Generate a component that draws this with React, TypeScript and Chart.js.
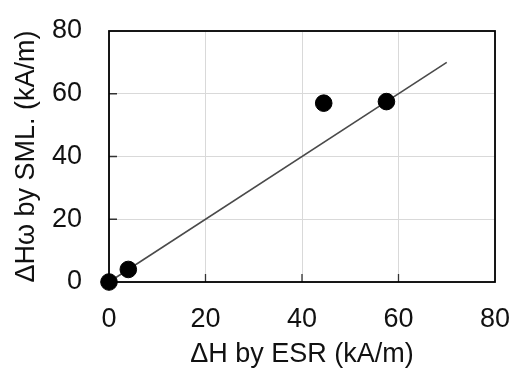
import React, { useEffect, useRef } from 'react';
import { Chart, registerables } from 'chart.js';

Chart.register(...registerables);

// Measured field change: ESR estimate (x) against SML estimate (y), kA/m
const esrValues = [0, 4, 44.5, 57.5];
const smlValues = [0, 4, 57, 57.5];

// Reference line y = x
const refLineX = [0, 70];
const refLineY = [0, 70];

const axisTicks = [0, 20, 40, 60, 80];
const xTitle = 'ΔH by ESR (kA/m)';
const yTitle = 'ΔHω by SML. (kA/m)';

const FONT_FAMILY = '"Liberation Sans", Arial, sans-serif';
const FONT_SIZE = 27;
const TEXT_COLOR = '#111111';

// Plot frame plus short inward tick marks on the bottom and left edges
const framePlugin = {
  id: 'frame',
  beforeDatasetsDraw(chart: any) {
    const { ctx, chartArea: a, scales } = chart;
    ctx.save();
    ctx.strokeStyle = '#333333';
    ctx.lineWidth = 1.3;
    ctx.beginPath();
    for (const v of axisTicks.slice(1, -1)) {
      const px = scales.x.getPixelForValue(v);
      ctx.moveTo(px, a.bottom);
      ctx.lineTo(px, a.bottom - 8);
      const py = scales.y.getPixelForValue(v);
      ctx.moveTo(a.left, py);
      ctx.lineTo(a.left + 8, py);
    }
    ctx.stroke();
    ctx.strokeStyle = '#000000';
    ctx.lineWidth = 1.8;
    ctx.strokeRect(a.left, a.top, a.right - a.left, a.bottom - a.top);
    ctx.restore();
  },
};

// Fixed scale box sizes; label overhang is handled by the layout padding
const fixBox = (size: { width?: number; height?: number }) => (scale: any) => {
  if (size.width !== undefined) scale.width = size.width;
  if (size.height !== undefined) scale.height = size.height;
  scale.paddingTop = 0;
  scale.paddingBottom = 0;
  scale.paddingLeft = 0;
  scale.paddingRight = 0;
};

export default function App() {
  const canvasRef = useRef<HTMLCanvasElement | null>(null);

  useEffect(() => {
    const canvas = canvasRef.current;
    if (!canvas) return;

    const points = esrValues.map((x, i) => ({ x, y: smlValues[i] }));
    const line = refLineX.map((x, i) => ({ x, y: refLineY[i] }));

    const chart = new Chart(canvas, {
      type: 'scatter',
      data: {
        datasets: [
          {
            label: 'data',
            data: points,
            backgroundColor: '#000000',
            borderColor: '#000000',
            pointRadius: 8.3,
            pointHoverRadius: 8.3,
            showLine: false,
            clip: false as any,
          },
          {
            label: 'y = x',
            data: line,
            showLine: true,
            borderColor: '#4a4a4a',
            borderWidth: 1.6,
            pointRadius: 0,
            pointHoverRadius: 0,
            clip: false as any,
          },
        ],
      },
      options: {
        responsive: false,
        animation: false,
        events: [],
        layout: { padding: { top: 31, right: 20, left: 0, bottom: 0 } },
        plugins: {
          legend: { display: false },
          tooltip: { enabled: false },
        },
        scales: {
          x: {
            type: 'linear',
            min: 0,
            max: 80,
            afterFit: fixBox({ height: 89 }),
            ticks: {
              stepSize: 20,
              padding: 21,
              color: TEXT_COLOR,
              font: { family: FONT_FAMILY, size: FONT_SIZE },
            },
            grid: { color: '#d9d9d9', lineWidth: 1, drawTicks: false },
            border: { display: false },
            title: {
              display: true,
              text: xTitle,
              color: TEXT_COLOR,
              font: { family: FONT_FAMILY, size: FONT_SIZE },
              padding: { top: 0, bottom: 0 },
            },
          },
          y: {
            type: 'linear',
            min: 0,
            max: 80,
            afterFit: fixBox({ width: 109 }),
            ticks: {
              stepSize: 20,
              padding: 27,
              color: TEXT_COLOR,
              font: { family: FONT_FAMILY, size: FONT_SIZE },
            },
            grid: { color: '#d9d9d9', lineWidth: 1, drawTicks: false },
            border: { display: false },
            title: {
              display: true,
              text: yTitle,
              color: TEXT_COLOR,
              font: { family: FONT_FAMILY, size: FONT_SIZE },
              padding: { top: 10, bottom: 0 },
            },
          },
        },
      },
      plugins: [framePlugin],
    });

    return () => chart.destroy();
  }, []);

  return (
    <div
      style={{
        position: 'fixed',
        left: 0,
        top: 0,
        width: 515,
        height: 371,
        background: '#ffffff',
      }}
    >
      <canvas ref={canvasRef} width={515} height={371} />
    </div>
  );
}
